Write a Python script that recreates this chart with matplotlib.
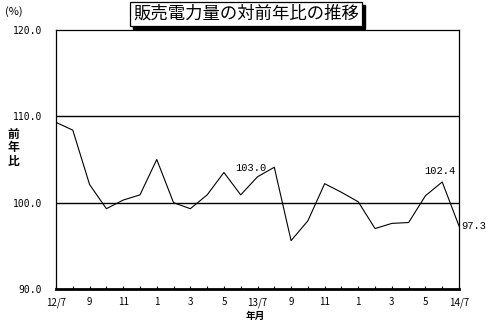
import matplotlib
matplotlib.use("Agg")
import matplotlib.pyplot as plt
from matplotlib.patches import Rectangle

plt.rcParams['font.family'] = ['Noto Sans CJK JP', 'DejaVu Sans']

# year-on-year ratio of electricity sales, monthly 2012/7 .. 2014/7
months = list(range(25))
ratio = [109.3, 108.4, 102.1, 99.3, 100.3, 100.9, 105.0, 100.0, 99.3, 100.9,
         103.5, 100.9, 103.0, 104.1, 95.6, 97.9, 102.2, 101.2, 100.1, 97.0,
         97.6, 97.7, 100.8, 102.4, 97.3]
tick_pos = list(range(0, 25, 2))
tick_labels = ['12/7', '9', '11', '1', '3', '5', '13/7', '9', '11', '1', '3', '5', '14/7']
y_ticks = [90, 100, 110, 120]
labelled = [12, 23, 24]   # points with value labels

fig = plt.figure(figsize=(4.86, 3.23), dpi=100)
ax = fig.add_axes([56 / 486, 34 / 323, 403 / 486, 259 / 323])

ax.plot(months, ratio, color='black', lw=0.8, zorder=3)
for y in (100, 110):
    ax.axhline(y, color='black', lw=1.0, zorder=2)

ax.set_xlim(0, 24)
ax.set_ylim(90, 120)
ax.set_yticks(y_ticks)
ax.set_yticklabels(['%.1f' % v for v in y_ticks], family='DejaVu Sans Mono', fontsize=7)
ax.tick_params(axis='y', length=0, pad=10)
ax.set_xticks(tick_pos)
ax.set_xticklabels(tick_labels, fontsize=7)
ax.set_xticks(months, minor=True)
ax.tick_params(axis='x', which='both', direction='in', length=2, width=0.8, pad=6)

for s in ax.spines.values():
    s.set_linewidth(0.9)
ax.spines['bottom'].set_linewidth(2.0)

# value labels
offsets = {12: (-5, 3, 'center'), 23: (-2, 4, 'center'), 24: (1.5, 0, 'left')}
for i in labelled:
    dx, dy, ha = offsets[i]
    ax.annotate('%.1f' % ratio[i], (months[i], ratio[i]), xytext=(dx, dy),
                textcoords='offset points', ha=ha, va='bottom' if dy > 0 else 'center',
                family='Liberation Mono', fontsize=7.5)

# axis captions
fig.text(5 / 486, 1 - 12 / 323, '(%)', fontsize=8, va='center', ha='left')
fig.text(13 / 486, 1 - 148 / 323, '前\n年\n比', fontsize=8.5, weight='bold',
         va='center', ha='center', linespacing=1.1)
fig.text(255 / 486, 1 - 316 / 323, '年月', fontsize=7, weight='bold',
         va='center', ha='center')

# title box, then a drop shadow behind it
title = '販売電力量の対前年比の推移'
t = fig.text(246 / 486, 1 - 14 / 323, title, fontsize=12.5, style='italic',
             ha='center', va='center', zorder=5,
             bbox=dict(boxstyle='square,pad=0.15', fc='white', ec='black', lw=0.9))
fig.canvas.draw()
bb = t.get_bbox_patch().get_window_extent()
W, H = fig.bbox.width, fig.bbox.height
fig.patches.append(Rectangle(((bb.x0 + 3) / W, (bb.y0 - 3) / H), bb.width / W, bb.height / H,
                             transform=fig.transFigure, fc='black', ec='black', zorder=4))

fig.savefig('out.png', dpi=100)
